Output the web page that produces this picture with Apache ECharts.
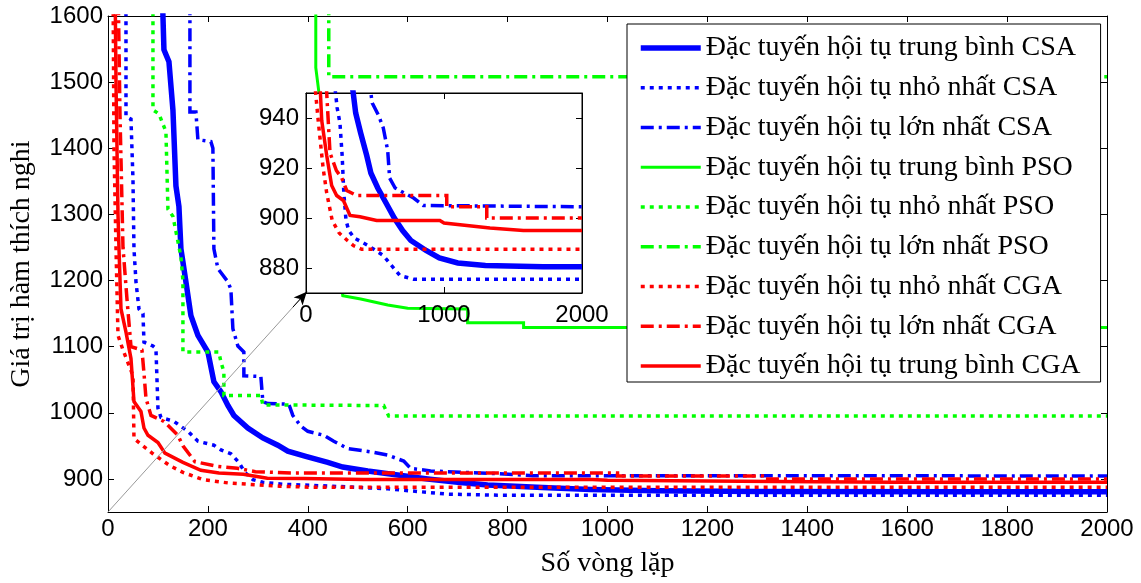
<!DOCTYPE html>
<html>
<head>
<meta charset="utf-8">
<script src="https://cdn.jsdelivr.net/npm/echarts@6/dist/echarts.min.js"></script>
<style>html,body{margin:0;padding:0;background:#fff;}#c{width:1141px;height:583px;}</style>
</head>
<body>
<div id="c"></div>
<script>
// ---- data (iteration, fitness) ----
const seriesNames = [
  'Đặc tuyến hội tụ trung bình CSA',
  'Đặc tuyến hội tụ nhỏ nhất CSA',
  'Đặc tuyến hội tụ lớn nhất CSA',
  'Đặc tuyến hội tụ trung bình PSO',
  'Đặc tuyến hội tụ nhỏ nhất PSO',
  'Đặc tuyến hội tụ lớn nhất PSO',
  'Đặc tuyến hội tụ nhỏ nhất CGA',
  'Đặc tuyến hội tụ lớn nhất CGA',
  'Đặc tuyến hội tụ trung bình CGA'
];
const csaMean = [[108,1660],[110,1600],[112,1549],[122,1531],[130,1458],[136,1343],[142,1312],[146,1248],[150,1228],[156,1198],[166,1147],[180,1117],[200,1092],[212,1047],[226,1032],[240,1011],[252,996],[280,977],[310,962],[340,951],[360,942],[396,934],[440,925],[470,918],[520,912],[580,906],[640,900],[700,895],[760,891],[870,887],[966,884],[1100,882],[1300,881],[1720,880.5],[2000,880.5]];
const csaMin = [[34,1660],[36,1600],[36,1448],[46,1444],[50,1353],[52,1248],[56,1198],[62,1157],[70,1150],[72,1107],[90,1101],[96,1097],[100,1007],[106,993],[132,987],[160,972],[180,957],[212,951],[226,944],[246,938],[262,925],[274,910],[290,899],[310,895],[350,892],[450,889],[560,885],[620,881],[680,877],[780,875.5],[2000,875.5]];
const csaMax = [[164,1660],[164,1455],[176,1455],[180,1413],[206,1410],[210,1400],[212,1248],[220,1218],[240,1198],[246,1187],[250,1127],[260,1101],[272,1092],[272,1056],[306,1055],[310,1017],[320,1014],[362,1013],[370,996],[386,980],[400,972],[432,966],[452,957],[480,946],[526,941],[560,936],[592,927],[606,916],[646,912],[712,910],[780,908],[850,905],[2000,904.5]];
const psoMean = [[416,1660],[416,1522],[422,1486],[450,1300],[470,1177],[506,1172],[560,1163],[600,1158],[720,1157],[720,1136],[832,1136],[832,1129],[2000,1129]];
const psoMin = [[90,1660],[90,1458],[102,1452],[116,1425],[120,1308],[130,1297],[146,1236],[150,1200],[150,1092],[222,1092],[226,1077],[232,1062],[232,1026],[306,1026],[310,1012],[552,1011],[562,995],[2000,995]];
const psoMax = [[442,1660],[442,1508],[2000,1508]];
const cgaMin = [[10,1660],[12,1400],[16,1250],[20,1117],[30,1095],[50,1056],[52,961],[70,950],[90,938],[124,920],[150,910],[190,899],[240,894],[300,891],[343,889],[404,887.5],[2000,887.5]];
const cgaMax = [[20,1660],[24,1450],[30,1250],[38,1172],[46,1100],[68,1095],[72,1060],[76,1022],[86,996],[112,987],[140,966],[150,950],[174,926],[220,919],[259,916],[295,911],[367,909],[1020,909],[1020,904.5],[1310,904.5],[1310,900],[2000,900]];
const cgaMean = [[14,1660],[16,1500],[18,1400],[20,1300],[22,1248],[26,1157],[36,1122],[46,1082],[52,1017],[66,1002],[72,977],[80,966],[100,955],[114,939],[150,925],[186,913],[222,909],[271,907],[319,901],[391,900.5],[512,899],[970,899],[1000,898],[1333,896],[1575,895],[2000,895]];
const seriesData = [csaMean, csaMin, csaMax, psoMean, psoMin, psoMax, cgaMin, cgaMax, cgaMean];

const mainYTicks = [900,1000,1100,1200,1300,1400,1500,1600];
const insetYTicks = [880,900,920,940];
const arrowLine = [[0,850],[398,1183]];

// ---- styles ----
const DOT = [4,5], DASHDOT = [13,5,3,5];
const styles = [
  {color:'#0000ff', width:5.5, type:'solid'},
  {color:'#0000ff', width:3.5, type:DOT},
  {color:'#0000ff', width:3.5, type:DASHDOT},
  {color:'#00ff00', width:3, type:'solid'},
  {color:'#00ff00', width:3.5, type:DOT},
  {color:'#00ff00', width:3.5, type:DASHDOT},
  {color:'#ff0000', width:3.5, type:DOT},
  {color:'#ff0000', width:3.5, type:DASHDOT},
  {color:'#ff0000', width:3.5, type:'solid'}
];
const SANS = 'Liberation Sans', SERIF = 'Liberation Serif';
const plain = v => String(v);
const tickStyle = {show:true, inside:true, length:6, lineStyle:{color:'#000', width:1}};
const lineStyleAx = {show:true, onZero:false, lineStyle:{color:'#000', width:1}};
const labelStyle = {color:'#000', fontFamily:SANS, fontSize:24, formatter:plain};

const series = [];
seriesData.forEach((d, i) => {
  const s = styles[i];
  series.push({
    name: seriesNames[i], type:'line', xAxisIndex:0, yAxisIndex:0, data:d,
    symbol:'none', z:2, clip:true, animation:false,
    lineStyle:{color:s.color, width:s.width, type:s.type, cap:'butt', join:'miter'},
    itemStyle:{color:s.color}
  });
});
seriesData.forEach((d, i) => {
  const s = styles[i];
  series.push({
    name: seriesNames[i], type:'line', xAxisIndex:2, yAxisIndex:2, data:d,
    symbol:'none', z:7, clip:true, animation:false,
    lineStyle:{color:s.color, width:s.width, type:s.type, cap:'butt', join:'miter'},
    itemStyle:{color:s.color}
  });
});
const a0 = arrowLine[0], a1 = arrowLine[1];
const aMid = [a0[0] + (a1[0]-a0[0])*0.93, a0[1] + (a1[1]-a0[1])*0.93];
series.push({
  type:'line', xAxisIndex:0, yAxisIndex:0, data:[], z:9, animation:false,
  markLine:{
    silent:true, animation:false, label:{show:false}, symbol:['none','none'],
    lineStyle:{color:'#999', width:1, type:'solid'},
    data:[
      [{coord:a0},{coord:a1}],
      [{coord:aMid, symbol:'none'},{coord:a1, symbol:'arrow', symbolSize:[9,13], lineStyle:{color:'#000', width:1, type:'solid'}}]
    ]
  }
});

const option = {
  backgroundColor:'#fff',
  animation:false,
  grid:[
    {left:107, top:16, width:1000, height:498, show:false},
    {left:306, top:93, width:276, height:200, show:true, backgroundColor:'#fff', borderColor:'#000', borderWidth:1, z:5}
  ],
  xAxis:[
    {gridIndex:0, type:'value', min:0, max:2000, interval:200, position:'bottom',
     axisLine:lineStyleAx, axisTick:tickStyle, splitLine:{show:false},
     axisLabel:Object.assign({margin:5}, labelStyle),
     name:'Số vòng lặp', nameLocation:'middle', nameGap:38,
     nameTextStyle:{color:'#000', fontFamily:SERIF, fontSize:28}},
    {gridIndex:0, type:'value', min:0, max:2000, interval:200, position:'top',
     axisLine:lineStyleAx, axisTick:tickStyle, splitLine:{show:false}, axisLabel:{show:false}},
    {gridIndex:1, type:'value', min:0, max:2000, interval:1000, position:'bottom', z:6,
     axisLine:lineStyleAx, axisTick:tickStyle, splitLine:{show:false},
     axisLabel:Object.assign({margin:10}, labelStyle)},
    {gridIndex:1, type:'value', min:0, max:2000, interval:1000, position:'top', z:6,
     axisLine:lineStyleAx, axisTick:tickStyle, splitLine:{show:false}, axisLabel:{show:false}}
  ],
  yAxis:[
    {gridIndex:0, type:'value', min:850, max:1600, position:'left',
     axisLine:lineStyleAx, axisTick:Object.assign({customValues:mainYTicks}, tickStyle), splitLine:{show:false},
     axisLabel:Object.assign({margin:5, customValues:mainYTicks}, labelStyle),
     name:'Giá trị hàm thích nghi', nameLocation:'middle', nameGap:72, nameRotate:90,
     nameTextStyle:{color:'#000', fontFamily:SERIF, fontSize:28}},
    {gridIndex:0, type:'value', min:850, max:1600, position:'right',
     axisLine:lineStyleAx, axisTick:Object.assign({customValues:mainYTicks}, tickStyle), splitLine:{show:false},
     axisLabel:{show:false}},
    {gridIndex:1, type:'value', min:870, max:950, position:'left', z:6,
     axisLine:lineStyleAx, axisTick:Object.assign({customValues:insetYTicks}, tickStyle), splitLine:{show:false},
     axisLabel:Object.assign({margin:7, customValues:insetYTicks}, labelStyle)},
    {gridIndex:1, type:'value', min:870, max:950, position:'right', z:6,
     axisLine:lineStyleAx, axisTick:Object.assign({customValues:insetYTicks}, tickStyle), splitLine:{show:false},
     axisLabel:{show:false}}
  ],
  legend:{
    orient:'vertical', left:627, top:24, z:10,
    backgroundColor:'#fff', borderColor:'#000', borderWidth:1, borderRadius:0,
    padding:[10,20,2,11], itemWidth:60, itemHeight:14, itemGap:11.75,
    selectedMode:false,
    itemStyle:{opacity:0},
    textStyle:{fontFamily:SERIF, fontSize:28, color:'#000', lineHeight:28},
    data: seriesNames.map((n,i)=>({
      name:n,
      itemStyle:{opacity:0},
      lineStyle:{color:styles[i].color, width:styles[i].width, type:styles[i].type, cap:'butt'}
    }))
  },
  series: series
};
const chart = echarts.init(document.getElementById('c'), null, {renderer:'canvas'});
chart.setOption(option);
</script>
</body>
</html>
